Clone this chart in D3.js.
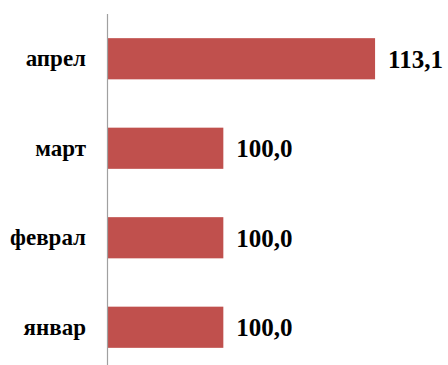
<!DOCTYPE html>
<html>
<head>
<meta charset="utf-8">
<script src="https://cdn.jsdelivr.net/npm/d3@7"></script>
<style>
  body { margin: 0; background: #fff; }
  svg { display: block; }
</style>
</head>
<body>
<div id="chart"></div>
<script>
// months from bottom to top, as in the picture
const months = ["январ", "феврал", "март", "апрел"];
const values = [100.0, 100.0, 100.0, 113.1];

const width = 448;
const height = 365;

const svg = d3.select("#chart")
    .append("svg")
    .attr("width", width)
    .attr("height", height);

// axis starts at 90, not zero
const x = d3.scaleLinear()
    .domain([90, 120])
    .range([107.5, 455]);

const y = d3.scaleBand()
    .domain(months.slice().reverse())
    .range([14, 372])
    .paddingInner(0.54)
    .paddingOuter(0.27);

const data = months.map((m, i) => ({ month: m, value: values[i] }));

svg.selectAll("rect.bar")
    .data(data)
    .enter()
    .append("rect")
    .attr("class", "bar")
    .attr("x", x(90))
    .attr("y", d => y(d.month))
    .attr("width", d => x(d.value) - x(90))
    .attr("height", y.bandwidth())
    .attr("fill", "#C0504D");

// vertical category axis line
svg.append("line")
    .attr("x1", x(90))
    .attr("x2", x(90))
    .attr("y1", 14)
    .attr("y2", height)
    .attr("stroke", "#a0a0a0")
    .attr("stroke-width", 1.2);

svg.selectAll("text.cat")
    .data(data)
    .enter()
    .append("text")
    .attr("class", "cat")
    .attr("x", 86)
    .attr("y", d => y(d.month) + y.bandwidth() / 2)
    .attr("dy", "0.33em")
    .attr("text-anchor", "end")
    .style("font-family", "'Liberation Serif', 'Times New Roman', serif")
    .style("font-weight", "bold")
    .style("font-size", "23px")
    .text(d => d.month);

svg.selectAll("text.val")
    .data(data)
    .enter()
    .append("text")
    .attr("class", "val")
    .attr("x", d => x(d.value) + 13)
    .attr("y", d => y(d.month) + y.bandwidth() / 2)
    .attr("dy", "0.35em")
    .style("font-family", "'Liberation Serif', 'Times New Roman', serif")
    .style("font-weight", "bold")
    .style("font-size", "25px")
    .text(d => d.value.toFixed(1).replace(".", ","));
</script>
</body>
</html>
